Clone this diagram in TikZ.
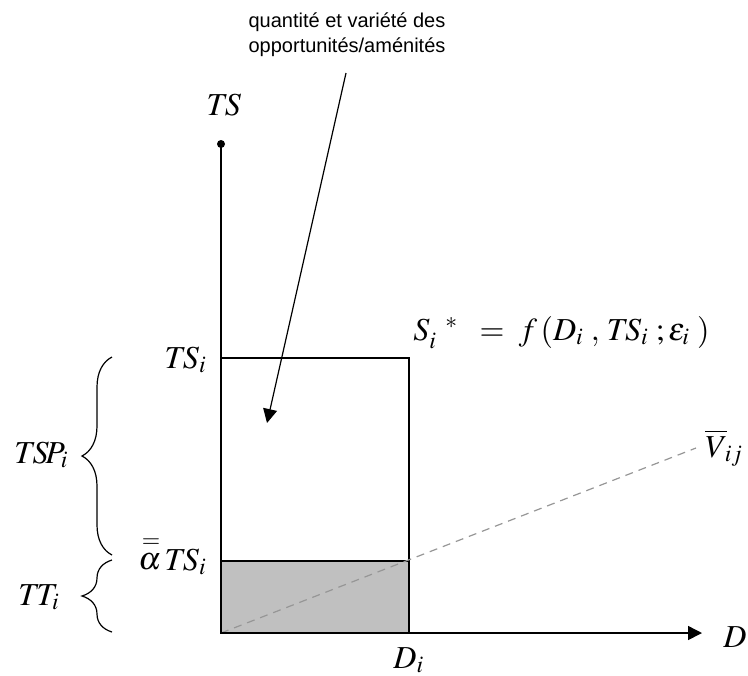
\documentclass[tikz,border=0pt]{standalone}
\usepackage{mathptmx}
\usepackage[no-math]{fontspec}
\setmainfont{Liberation Serif}
\setsansfont{Liberation Sans}
\usepackage{tikz}
\usetikzlibrary{arrows.meta,positioning,calc,decorations.pathreplacing}
\definecolor{shadeGray}{RGB}{192,192,192}
\definecolor{lineGray}{RGB}{150,150,150}

\begin{document}
\begin{tikzpicture}[
    x=0.5pt,y=-0.5pt,
    >={Triangle[length=7pt,width=7pt]},
    ax/.style={line width=0.75pt,black},
    box/.style={line width=0.6pt,black},
    lbl/.style={font=\fontsize{16}{19}\selectfont,inner sep=0pt},
    note/.style={font=\sffamily\fontsize{10}{12.5}\selectfont,align=center,inner sep=0pt},
    brc/.style={decorate,decoration={brace,amplitude=15pt},line width=0.6pt}
  ]
  \useasboundingbox (0,0) rectangle (748,675);
  %% Rectangles (total time, travel part shaded)
  \fill[shadeGray] (221,561) rectangle (409,633);
  \draw[box] (221,358) rectangle (409,633);
  \draw[box] (221,561) -- (409,561);
  %% Dashed line
  \coordinate (O) at (221,633);
  \coordinate (Vend) at (696,448);
  \draw[lineGray,dashed,line width=0.6pt,dash pattern=on 4pt off 3pt] (O) -- (Vend);
  %% Axes
  \coordinate (Ytop) at (221,144);
  \coordinate (Xend) at (702,633);
  \draw[ax] (O) -- (Ytop);
  \fill (Ytop) circle (4);
  \draw[ax,->] (O) -- (Xend);
  %% Axis labels
  \node[lbl,anchor=base] (TS) at (224,115) {$T\!S$};
  \node[lbl,anchor=base west] (D) at (723,647) {$D$};
  \node[lbl,anchor=base west] (Di) at (393,668) {$D_{i}$};
  \node[lbl,anchor=base east] (TSi) at (207,368) {$T\!S_{i}$};
  \node[lbl,anchor=base east] (aTSi) at (207,570) {$\stackrel{=}{\alpha}\!T\!S_{i}$};
  \node[lbl,anchor=base west] (Vij) at (705,457) {$\overline{V}_{\!ij}$};
  \node[lbl,anchor=base west] (Sfun) at (413,340)
    {$S_{i}^{\;\;\;*}\;\;=\;f\,(D_{i}\;,\,T\!S_{i}\;;\varepsilon_{i}\;)$};
  %% Braces on the left
  \coordinate (b1) at (112,555);
  \coordinate (b2) at (112,357);
  \coordinate (b3) at (112,632);
  \coordinate (b4) at (112,560);
  \draw[brc] (b1) -- (b2);
  \draw[brc] (b3) -- (b4);
  \node[lbl,anchor=base west] (TSPi) at (14,463) {$T\!S\!P_{i}$};
  \node[lbl,anchor=base west] (TTi) at (18,605) {$T\!T_{i}$};
  %% Annotation with arrow
  \node[note] (amen) at (347,35) {quantité et variété des\\opportunités/aménités};
  \coordinate (aStart) at (346,73);
  \coordinate (aEnd) at (267,423);
  \draw[->,line width=0.6pt] (aStart) -- (aEnd);
\end{tikzpicture}
\end{document}
